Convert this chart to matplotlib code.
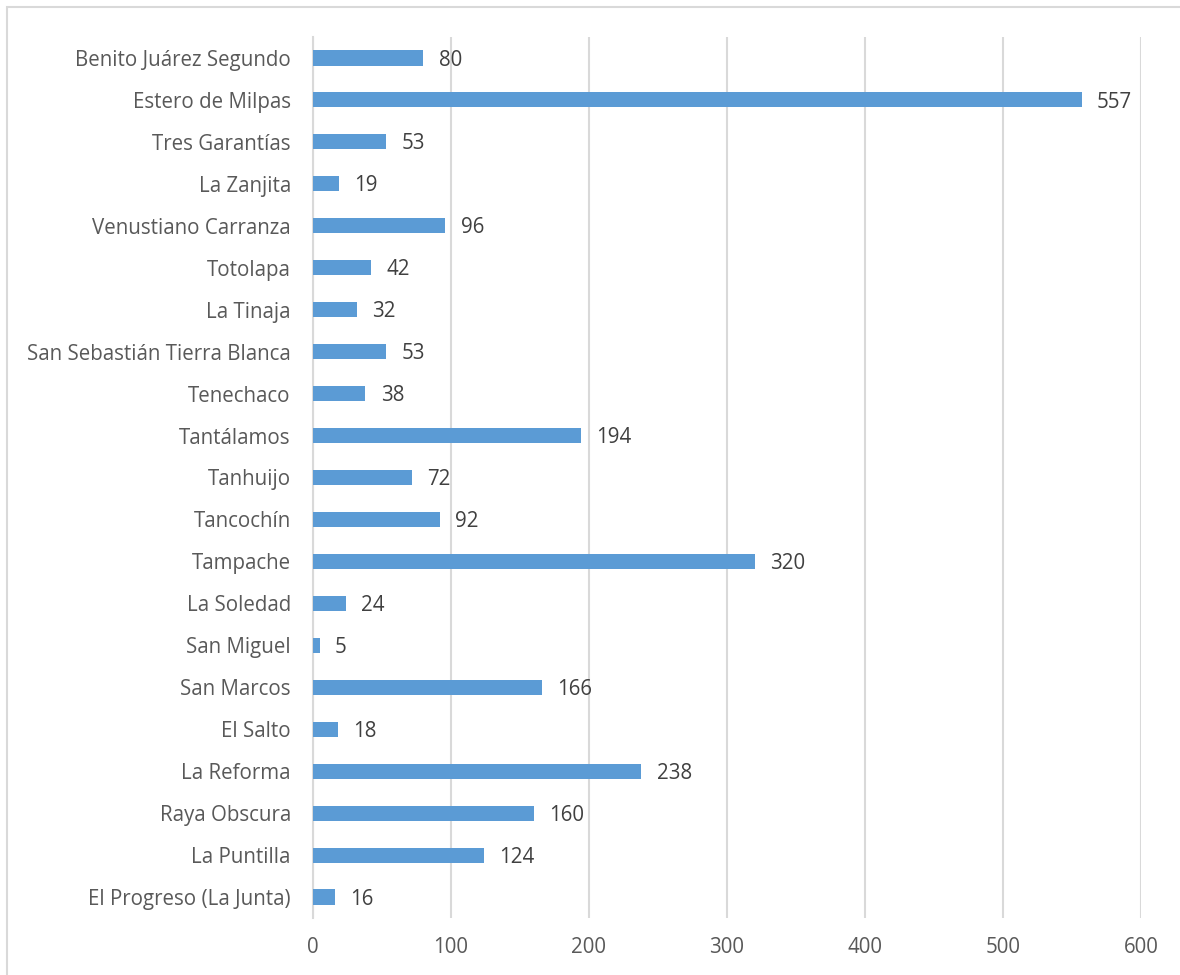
import matplotlib
matplotlib.use("Agg")
import matplotlib.pyplot as plt
from matplotlib.patches import Rectangle

categories = ["Benito Juárez Segundo", "Estero de Milpas", "Tres Garantías", "La Zanjita",
              "Venustiano Carranza", "Totolapa", "La Tinaja", "San Sebastián Tierra Blanca",
              "Tenechaco", "Tantálamos", "Tanhuijo", "Tancochín", "Tampache", "La Soledad",
              "San Miguel", "San Marcos", "El Salto", "La Reforma", "Raya Obscura",
              "La Puntilla", "El Progreso (La Junta)"]
values = [80, 557, 53, 19, 96, 42, 32, 53, 38, 194, 72, 92, 320, 24, 5, 166, 18, 238, 160, 124, 16]
xticks = [0, 100, 200, 300, 400, 500, 600]

plt.rcParams['font.family'] = ['Open Sans', 'DejaVu Sans']
txt = '#595959'
fs = 14.8
fig = plt.figure(figsize=(11.8, 9.75), dpi=100)
fig.patches.append(Rectangle((7/1180, -0.1), 1.2, 1 - 7/975 + 0.1, transform=fig.transFigure,
                             fill=False, edgecolor='#D9D9D9', linewidth=1.5))
ax = fig.add_axes([313/1180, 1 - 918/975, (1141 - 313)/1180, (918 - 37)/975])
n = len(categories)
ypos = list(range(n - 1, -1, -1))
ax.barh(ypos, values, height=0.36, color='#5B9BD5', zorder=3)
for y, v in zip(ypos, values):
    ax.text(v + 11, y - 0.05, str(v), va='center', ha='left', fontsize=fs, color='#404040')
ax.set_xlim(0, 600)
ax.set_ylim(-0.5, n - 0.5)
ax.set_yticks(ypos)
ax.set_yticklabels(categories, fontsize=fs, color=txt)
ax.set_xticks(xticks)
ax.set_xticklabels([str(t) for t in xticks], fontsize=fs, color=txt)
ax.tick_params(axis='both', length=0)
ax.tick_params(axis='y', pad=16)
ax.tick_params(axis='x', pad=14)
ax.grid(axis='x', color='#D9D9D9', linewidth=1.5, zorder=0)
for s in ['top', 'right', 'bottom']:
    ax.spines[s].set_visible(False)
ax.spines['left'].set_color('#D9D9D9')
ax.spines['left'].set_linewidth(1.5)
fig.savefig('out.png', dpi=100)
